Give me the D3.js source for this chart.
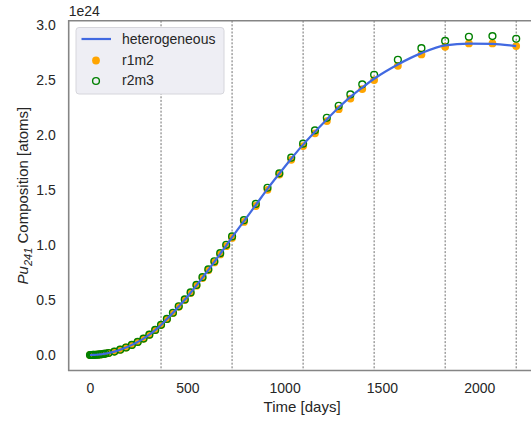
<!DOCTYPE html>
<html>
<head>
<meta charset="utf-8">
<script src="https://cdn.jsdelivr.net/npm/d3@7"></script>
<style>
  html, body { margin: 0; padding: 0; background: #fff; }
  svg { display: block; font-family: "Liberation Sans", Arial, sans-serif; }
</style>
</head>
<body>
<svg id="chart" width="531" height="423"></svg>
<script>
// Depletion time steps [days]
const days = [0, 5, 10, 15, 20, 30, 40, 50, 60, 70, 80, 95, 125, 155, 185, 215, 245, 275, 305, 335, 365,
  395, 426, 456, 487, 517, 547, 578, 608, 639, 669, 700, 730,
  791, 852, 912, 973, 1034, 1095, 1156, 1217, 1278, 1338, 1399, 1460,
  1582, 1703, 1825, 1947, 2068, 2190];

// Pu-241 inventory, units of 1e24 atoms
const heterogeneous = [0, 0, 0, 0.001, 0.001, 0.002, 0.003, 0.005, 0.007, 0.010, 0.013, 0.018, 0.031, 0.048, 0.068, 0.092, 0.119, 0.149, 0.185, 0.227, 0.273,
  0.327, 0.383, 0.441, 0.502, 0.566, 0.633, 0.703, 0.774, 0.846, 0.920, 0.995, 1.071,
  1.218, 1.364, 1.511, 1.650, 1.785, 1.913, 2.030, 2.142, 2.250, 2.347, 2.432, 2.512,
  2.642, 2.745, 2.816, 2.832, 2.830, 2.808];
const r1m2 = [0, 0, 0, 0.001, 0.001, 0.002, 0.003, 0.005, 0.007, 0.010, 0.013, 0.018, 0.031, 0.048, 0.068, 0.092, 0.118, 0.148, 0.184, 0.226, 0.272,
  0.326, 0.381, 0.439, 0.500, 0.563, 0.630, 0.700, 0.770, 0.842, 0.915, 0.990, 1.065,
  1.210, 1.355, 1.502, 1.641, 1.775, 1.900, 2.016, 2.127, 2.235, 2.332, 2.418, 2.500,
  2.630, 2.733, 2.803, 2.833, 2.833, 2.809];
const r2m3 = [0, 0, 0, 0.001, 0.001, 0.002, 0.003, 0.005, 0.007, 0.010, 0.013, 0.018, 0.031, 0.048, 0.068, 0.092, 0.119, 0.149, 0.185, 0.228, 0.274,
  0.328, 0.384, 0.443, 0.505, 0.569, 0.637, 0.708, 0.779, 0.852, 0.926, 1.002, 1.078,
  1.226, 1.374, 1.521, 1.652, 1.794, 1.922, 2.043, 2.157, 2.266, 2.370, 2.461, 2.548,
  2.685, 2.790, 2.856, 2.894, 2.900, 2.876];

// Cycle boundaries (one per year)
const cycles = [365, 730, 1095, 1460, 1825, 2190];
const xTicks = [0, 500, 1000, 1500, 2000];
const yTicks = [0, 0.5, 1.0, 1.5, 2.0, 2.5, 3.0];

const svg = d3.select("#chart");
const pl = 68.7, pr = 537.5, pt = 20.7, pb = 370.5;

const x = d3.scaleLinear().domain([-109.5, 2299.5]).range([pl, pr]);
const y = d3.scaleLinear().domain([-0.141, 3.04]).range([pb, pt]);

const spine = "#858585";

// yearly cycle markers
svg.append("g").selectAll("line").data(cycles).join("line")
  .attr("x1", d => x(d)).attr("x2", d => x(d))
  .attr("y1", pt).attr("y2", pb)
  .attr("stroke", "#6f6f6f").attr("stroke-width", 1)
  .attr("stroke-dasharray", "2,1.6");

// axes (tick marks hidden, labels only)
const xAxis = svg.append("g").attr("transform", `translate(0,${pb})`)
  .call(d3.axisBottom(x).tickValues(xTicks).tickFormat(d3.format("d")).tickSize(0).tickPadding(13));
const yAxis = svg.append("g").attr("transform", `translate(${pl},0)`)
  .call(d3.axisLeft(y).tickValues(yTicks).tickFormat(d3.format(".1f")).tickSize(0).tickPadding(13));
[xAxis, yAxis].forEach(g => {
  g.select(".domain").remove();
  g.selectAll("text").attr("fill", "#262626").attr("font-size", 14)
    .attr("font-family", "Liberation Sans, Arial, sans-serif");
});

// spines
svg.append("path")
  .attr("d", `M${pr},${pt}H${pl}V${pb}H${pr}`)
  .attr("fill", "none").attr("stroke", spine).attr("stroke-width", 1.6);

// r1m2 filled markers
svg.append("g").selectAll("circle").data(days).join("circle")
  .attr("cx", d => x(d)).attr("cy", (d, i) => y(r1m2[i])).attr("r", 3.9)
  .attr("fill", "#ffa500");

// r2m3 open markers
svg.append("g").selectAll("circle").data(days).join("circle")
  .attr("cx", d => x(d)).attr("cy", (d, i) => y(r2m3[i])).attr("r", 3.4)
  .attr("fill", "none").attr("stroke", "#008000").attr("stroke-width", 1.4);

// heterogeneous reference line
const line = d3.line().x(d => x(d[0])).y(d => y(d[1])).curve(d3.curveMonotoneX);
svg.append("path").datum(days.map((d, i) => [d, heterogeneous[i]]))
  .attr("d", line).attr("fill", "none").attr("stroke", "#4169e1").attr("stroke-width", 2.2);

// offset label
svg.append("text").attr("x", pl).attr("y", 16).attr("font-size", 14).attr("fill", "#262626").text("1e24");

// axis titles
svg.append("text").attr("x", (pl + pr) / 2 - 1).attr("y", 412).attr("text-anchor", "middle")
  .attr("font-size", 15).attr("fill", "#262626").text("Time [days]");
const yl = svg.append("text").attr("transform", `translate(28,${(pt + pb) / 2}) rotate(-90)`)
  .attr("text-anchor", "middle").attr("font-size", 15).attr("fill", "#262626");
yl.append("tspan").attr("font-style", "italic").text("Pu");
yl.append("tspan").attr("font-style", "italic").attr("font-size", 11).attr("dy", 4).text("241");
yl.append("tspan").attr("dy", -4).text(" Composition [atoms]");

// legend
const lg = svg.append("g");
lg.append("rect").attr("x", 76).attr("y", 27.5).attr("width", 148).attr("height", 66.5).attr("rx", 3)
  .attr("fill", "#eeeef4").attr("stroke", "#d6d6dc").attr("stroke-width", 1);
lg.append("line").attr("x1", 81.5).attr("x2", 111).attr("y1", 39).attr("y2", 39)
  .attr("stroke", "#4169e1").attr("stroke-width", 2.2);
lg.append("circle").attr("cx", 96).attr("cy", 60.5).attr("r", 3.9).attr("fill", "#ffa500");
lg.append("circle").attr("cx", 96).attr("cy", 81).attr("r", 3.4).attr("fill", "none")
  .attr("stroke", "#008000").attr("stroke-width", 1.4);
const labels = ["heterogeneous", "r1m2", "r2m3"];
lg.selectAll("text.lab").data(labels).join("text").attr("class", "lab")
  .attr("x", 122).attr("y", (d, i) => 44 + i * 20.7).attr("font-size", 14).attr("fill", "#262626").text(d => d);
</script>
</body>
</html>
